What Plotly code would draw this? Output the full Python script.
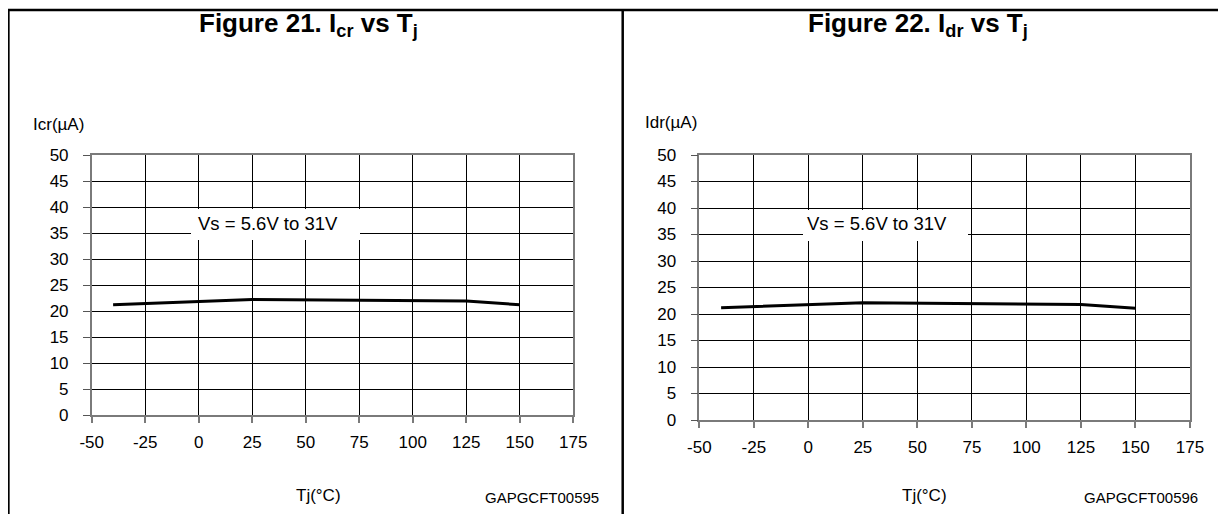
import plotly.graph_objects as go

W, H = 1226, 514
OFF = 8  # page body margin of the browser

# ---- data ----
tj_cr = [-40, 0, 25, 125, 150]
icr = [21.2, 21.8, 22.2, 21.9, 21.2]
tj_dr = [-40, 0, 25, 125, 150]
idr = [21.2, 21.7, 22.1, 21.8, 21.1]

x_ticks = [-50, -25, 0, 25, 50, 75, 100, 125, 150, 175]
y_ticks = [0, 5, 10, 15, 20, 25, 30, 35, 40, 45, 50]

titles = ["Figure 21. I<sub>cr</sub> vs T<sub>j</sub>", "Figure 22. I<sub>dr</sub> vs T<sub>j</sub>"]
y_titles = ["Icr(µA)", "Idr(µA)"]
x_title = "Tj(°C)"
codes = ["GAPGCFT00595", "GAPGCFT00596"]
note = "Vs = 5.6V to 31V"

FONT = "Liberation Sans, Arial, sans-serif"


def px(x):
    return (x - OFF) / W


def py(y):
    return 1 - (y - OFF) / H


fig = go.Figure()
fig.add_trace(go.Scatter(x=tj_cr, y=icr, mode="lines", line=dict(color="black", width=3),
                         xaxis="x", yaxis="y", showlegend=False, hoverinfo="skip"))
fig.add_trace(go.Scatter(x=tj_dr, y=idr, mode="lines", line=dict(color="black", width=3),
                         xaxis="x2", yaxis="y2", showlegend=False, hoverinfo="skip"))

panels = [
    dict(x0=91.7, x1=573.3, y0=155, y1=415),
    dict(x0=699.3, x1=1190, y0=155, y1=420),
]

common_x = dict(range=[-50, 175], tickvals=x_ticks, ticktext=[str(v) for v in x_ticks],
                showgrid=True, gridcolor="black", gridwidth=1, zeroline=False,
                showline=True, linecolor="#7a7a7a", linewidth=1.5, mirror=True,
                ticks="outside", ticklen=6, tickcolor="#7a7a7a", tickwidth=1.5,
                ticklabelstandoff=5,
                tickfont=dict(family=FONT, size=17, color="black"), fixedrange=True)
common_y = dict(range=[0, 50], tickvals=y_ticks, ticktext=[str(v) for v in y_ticks],
                showgrid=True, gridcolor="black", gridwidth=1, zeroline=False,
                showline=True, linecolor="#7a7a7a", linewidth=1.5, mirror=True,
                ticks="outside", ticklen=7, tickcolor="#555", tickwidth=1,
                ticklabelstandoff=11,
                tickfont=dict(family=FONT, size=17, color="black"), fixedrange=True)

fig.update_layout(
    width=W, height=H, autosize=False,
    margin=dict(l=0, r=0, t=0, b=0, pad=0, autoexpand=False),
    paper_bgcolor="white", plot_bgcolor="white",
    xaxis=dict(domain=[px(panels[0]["x0"]), px(panels[0]["x1"])], anchor="y", **common_x),
    yaxis=dict(domain=[py(panels[0]["y1"]), py(panels[0]["y0"])], anchor="x", **common_y),
    xaxis2=dict(domain=[px(panels[1]["x0"]), px(panels[1]["x1"])], anchor="y2", **common_x),
    yaxis2=dict(domain=[py(panels[1]["y1"]), py(panels[1]["y0"])], anchor="x2", **common_y),
)

shapes = []
# outer frame lines
shapes.append(dict(type="line", xref="paper", yref="paper", x0=px(8.4), x1=px(8.4), y0=py(9), y1=py(530),
                   line=dict(color="black", width=2.5)))
shapes.append(dict(type="line", xref="paper", yref="paper", x0=px(7.5), x1=px(1234), y0=py(10), y1=py(10),
                   line=dict(color="black", width=2.5)))
shapes.append(dict(type="line", xref="paper", yref="paper", x0=px(622.7), x1=px(622.7), y0=py(10), y1=py(530),
                   line=dict(color="black", width=2.5)))
# white boxes behind the condition note
boxes = [(191, 360, 209, 240), (803, 968, 210, 241)]
for (bx0, bx1, by0, by1) in boxes:
    shapes.append(dict(type="rect", xref="paper", yref="paper", x0=px(bx0), x1=px(bx1), y0=py(by1), y1=py(by0),
                       fillcolor="white", line=dict(width=0), layer="above"))
fig.update_layout(shapes=shapes)

ann = []
title_x = [308, 918]
for i in range(2):
    ann.append(dict(text="<b>" + titles[i] + "</b>", xref="paper", yref="paper", x=px(title_x[i]), y=py(25),
                    xanchor="center", yanchor="middle", showarrow=False,
                    font=dict(family=FONT, size=26, color="black")))
ylab_pos = [(31, 125), (643, 122)]
for i in range(2):
    ann.append(dict(text=y_titles[i], xref="paper", yref="paper", x=px(ylab_pos[i][0]), y=py(ylab_pos[i][1]),
                    xanchor="left", yanchor="middle", showarrow=False,
                    font=dict(family=FONT, size=17, color="black")))
xlab_x = [318, 925]
for i in range(2):
    ann.append(dict(text=x_title, xref="paper", yref="paper", x=px(xlab_x[i]), y=py(495),
                    xanchor="center", yanchor="middle", showarrow=False,
                    font=dict(family=FONT, size=17, color="black")))
code_x = [542, 1141]
for i in range(2):
    ann.append(dict(text=codes[i], xref="paper", yref="paper", x=px(code_x[i]), y=py(497),
                    xanchor="center", yanchor="middle", showarrow=False,
                    font=dict(family=FONT, size=15, color="black")))
note_x = [268, 877]
for i in range(2):
    ann.append(dict(text=note, xref="paper", yref="paper", x=px(note_x[i]), y=py(223),
                    xanchor="center", yanchor="middle", showarrow=False,
                    font=dict(family=FONT, size=18.5, color="black")))
fig.update_layout(annotations=ann)

fig.write_html("out.html", config={"displayModeBar": False})
